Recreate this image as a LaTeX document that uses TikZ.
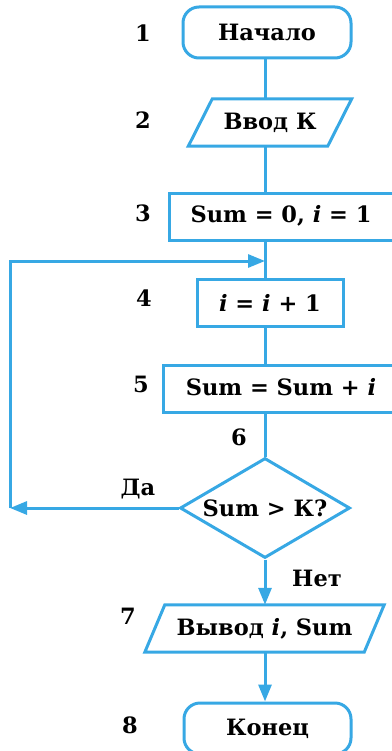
\documentclass[tikz,border=0pt]{standalone}
\usepackage{fontspec}
\setmainfont{DejaVu Serif}
\usetikzlibrary{arrows.meta,shapes.geometric}
\definecolor{fc}{RGB}{55,168,228}
\begin{document}
\begin{tikzpicture}[x=1pt,y=-1pt,
  every node/.style={font=\fontsize{22.5}{27}\selectfont\bfseries},
  ln/.style={draw=fc,line width=3pt},
  arr/.style={ln,-{Triangle[length=17pt,width=13pt]}},
  term/.style={ln,rounded corners=16pt,minimum width=168pt,minimum height=51pt,inner sep=0pt},
  procbox/.style={ln,minimum height=47pt,inner sep=0pt},
  iobox/.style={minimum height=47pt,inner sep=0pt},
  decision/.style={ln,diamond,aspect=1.7,minimum width=170pt,minimum height=100pt,inner sep=0pt},
  num/.style={}]
\useasboundingbox (0,0) rectangle (391,751);
% shapes
\node[term] (n1) at (267,32.5) {Начало};
\node[iobox,minimum width=139pt] (n2) at (270,122.5) {Ввод К};
\draw[ln] ([xshift=12pt]n2.north west) -- ([xshift=12pt]n2.north east) -- ([xshift=-12pt]n2.south east) -- ([xshift=-12pt]n2.south west) -- cycle;
\node[procbox,minimum width=235pt] (n3) at (286.5,217) {};
\node (t3) at (281,216) {Sum = 0, \textit{i} = 1};
\node[procbox,minimum width=146pt] (n4) at (270,303) {\textit{i} = \textit{i} + 1};
\node[procbox,minimum width=240pt] (n5) at (283,388.5) {};
\node (t5) at (281,387) {Sum = Sum + \textit{i}};
\node[decision] (n6) at (265,508) {Sum > К?};
\node[iobox,minimum width=219pt] (n7) at (264.5,628.5) {Вывод \textit{i}, Sum};
\draw[ln] ([xshift=10pt]n7.north west) -- ([xshift=10pt]n7.north east) -- ([xshift=-10pt]n7.south east) -- ([xshift=-10pt]n7.south west) -- cycle;
\node[term,minimum width=167pt] (n8) at (267.5,728.5) {Конец};
% labels
\node[num] (l1) at (143,33) {1};
\node[num] (l2) at (143,120) {2};
\node[num] (l3) at (143,213) {3};
\node[num] (l4) at (144,298) {4};
\node[num] (l5) at (141,384) {5};
\node[num] (l6) at (239,437) {6};
\node[num] (l7) at (128,616) {7};
\node[num] (l8) at (130,725) {8};
\node (da) at (138,489) {Да};
\node (net) at (317,578) {Нет};
% connectors
\coordinate (j) at (265,261);
\coordinate (lb) at (10,508);
\coordinate (lt) at (10,261);
\draw[ln] (n1.south -| 265,0) -- (n2.north -| 265,0);
\draw[ln] (n2.south -| 265,0) -- (n3.north -| 265,0);
\draw[ln] (n3.south -| 265,0) -- (n4.north -| 265,0);
\draw[ln] (n4.south -| 265,0) -- (n5.north -| 265,0);
\draw[ln] (n5.south -| 265,0) -- (n6.north);
\draw[arr] (n6.south) -- (n7.north -| n6.south);
\draw[arr] (n7.south -| 265,0) -- (n8.north -| 265,0);
\draw[arr] (n6.west) -- (lb);
\draw[arr] (lb) -- (lt) -- (j);
\end{tikzpicture}
\end{document}
